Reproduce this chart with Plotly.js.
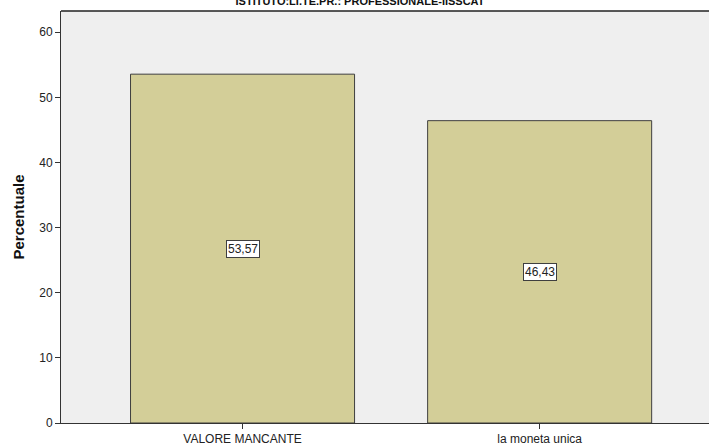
<!DOCTYPE html>
<html>
<head>
<meta charset="utf-8">
<script src="https://cdn.plot.ly/plotly-3.0.1.min.js"></script>
<style>html,body{margin:0;padding:0;background:#fff;}#chart{width:709px;height:447px;}</style>
</head>
<body>
<div id="chart"></div>
<script>
const categories = ["VALORE MANCANTE", "la moneta unica"];
const percentages = [53.57, 46.43];
const valueLabels = ["53,57", "46,43"];
const yTicks = [0, 10, 20, 30, 40, 50, 60];
const chartTitle = "ISTITUTO:LI.TE.PR.: PROFESSIONALE-IISSCAT";
const yTitle = "Percentuale";

const FONT = "Liberation Sans, Arial, sans-serif";

const trace = {
  type: "bar",
  x: [0, 1],
  y: percentages,
  width: 0.754,
  marker: {color: "#d3ce98", line: {color: "#3f3f3f", width: 1}},
  hoverinfo: "skip"
};

const annotations = percentages.map((v, i) => ({
  x: i, y: v / 2, xref: "x", yref: "y",
  text: valueLabels[i], showarrow: false,
  bgcolor: "#ffffff", bordercolor: "#3f3f3f", borderwidth: 1, borderpad: 1,
  font: {family: FONT, size: 12, color: "#222"}
}));

const layout = {
  width: 709, height: 447,
  margin: {l: 61, r: 0, t: 11, b: 24, pad: 0},
  paper_bgcolor: "#ffffff",
  plot_bgcolor: "#efefef",
  showlegend: false,
  title: {
    text: "<b>" + chartTitle + "</b>",
    font: {family: FONT, size: 11, color: "#111"},
    x: 360 / 709, xanchor: "center", xref: "container",
    y: 1 - 1 / 447, yanchor: "middle", yref: "container"
  },
  xaxis: {
    range: [-0.611, 1.570],
    tickvals: [0, 1], ticktext: categories,
    showline: true, linecolor: "#333", linewidth: 1,
    ticks: "outside", ticklen: 5, tickcolor: "#333",
    showgrid: false, zeroline: false,
    tickfont: {family: FONT, size: 12, color: "#222"}
  },
  yaxis: {
    range: [0, 63.27],
    tickvals: yTicks,
    showline: true, linecolor: "#333", linewidth: 1,
    ticks: "outside", ticklen: 5, tickcolor: "#333",
    showgrid: false, zeroline: false,
    tickfont: {family: FONT, size: 12, color: "#222"},
    title: {text: "<b>" + yTitle + "</b>", standoff: 10,
      font: {family: FONT, size: 15, color: "#111"}}
  },
  shapes: [{type: "line", xref: "paper", yref: "paper", x0: 0, x1: 1, y0: 1, y1: 1,
    line: {color: "#222", width: 1.5}}],
  annotations: annotations
};

Plotly.newPlot("chart", [trace], layout, {displayModeBar: false, staticPlot: true});
</script>
</body>
</html>
